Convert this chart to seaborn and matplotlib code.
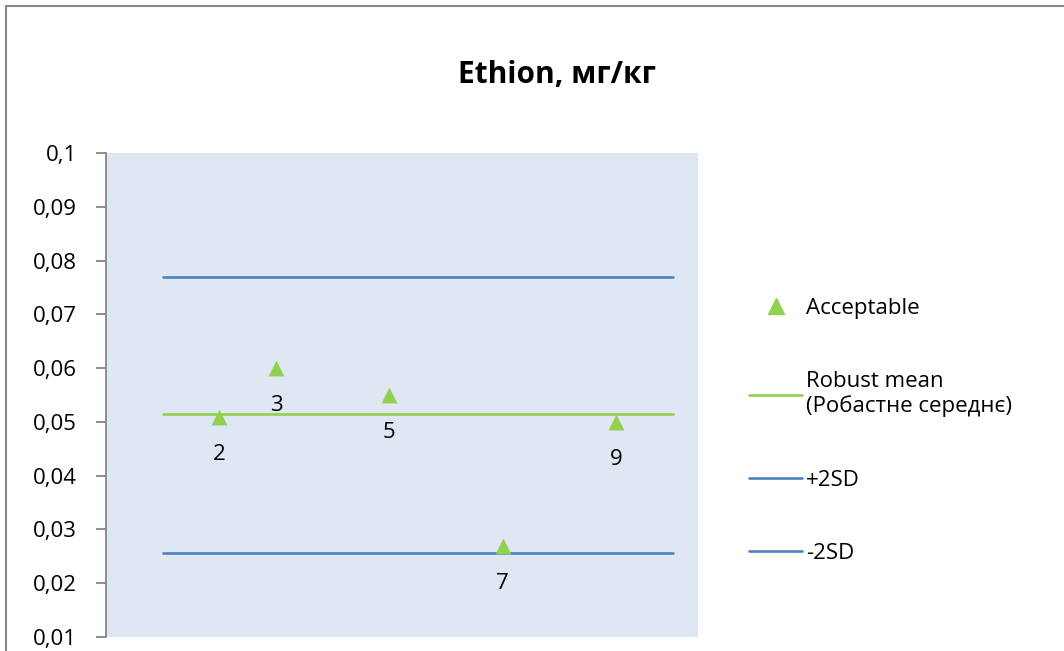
import matplotlib
matplotlib.use("Agg")
import matplotlib.pyplot as plt
import seaborn as sns
import pandas as pd
from matplotlib.lines import Line2D
from matplotlib.patches import Rectangle
from matplotlib.ticker import FuncFormatter

# data
labs = [2, 3, 5, 7, 9]
vals = [0.051, 0.060, 0.055, 0.027, 0.050]
line_x = [1, 10]
robust_mean = 0.0514
plus_2sd = 0.0770
minus_2sd = 0.0257

green = "#92D050"
blue = "#4F81BD"

sns.set_style("white")
plt.rcParams['font.family'] = ['Open Sans', 'DejaVu Sans']
plt.rcParams['text.color'] = 'black'
plt.rcParams['ytick.labelcolor'] = 'black'

fig = plt.figure(figsize=(10.64, 6.51), dpi=100)
ax = fig.add_axes([106/1064, 1-637/651, (698-106)/1064, (637-153)/651])
ax.set_facecolor("#DFE7F2")

df = pd.DataFrame({'lab': labs, 'value': vals})
lines = pd.DataFrame({'x': line_x * 3,
                      'y': [robust_mean]*2 + [plus_2sd]*2 + [minus_2sd]*2,
                      'name': ['mean']*2 + ['plus']*2 + ['minus']*2})

for nm, col in [('mean', green), ('plus', blue), ('minus', blue)]:
    sns.lineplot(data=lines[lines['name'] == nm], x='x', y='y', color=col,
                 linewidth=1.9, ax=ax)

sns.scatterplot(data=df, x='lab', y='value', marker='^', color=green, s=130,
                edgecolor=green, linewidth=0, ax=ax, zorder=5)

for l, v in zip(labs, vals):
    ax.annotate(str(l), (l, v), xytext=(0, -27), textcoords='offset points',
                ha='center', va='center', fontsize=16, color='black')

ax.set_xlim(0, 10.45)
ax.set_ylim(0.01, 0.1)
ax.set_yticks([0.01 * i for i in range(1, 11)])
ax.yaxis.set_major_formatter(FuncFormatter(lambda v, p: f"{v:.2f}".rstrip('0').replace('.', ',')))
ax.set_xticks([])
ax.set_xlabel("")
ax.set_ylabel("")
ax.tick_params(axis='y', which='major', length=7, width=1.3, color="#868686",
               labelsize=16, labelcolor='black', pad=14, left=True)
for s in ['top', 'right', 'bottom']:
    ax.spines[s].set_visible(False)
ax.spines['left'].set_color("#868686")
ax.spines['left'].set_linewidth(1.3)

fig.text(557/1064, 1-75/651, "Ethion, мг/кг", ha='center', va='center',
         fontsize=21.5, fontweight='bold', color='black')

handles = [
    Line2D([], [], marker='^', color=green, linestyle='none', markersize=11),
    Line2D([], [], color=green, linewidth=1.9),
    Line2D([], [], color=blue, linewidth=1.9),
    Line2D([], [], color=blue, linewidth=1.9),
]
names = ["Acceptable", "Robust mean\n(Робастне середнє)", "+2SD", "-2SD"]
fig.legend(handles, names, loc='upper left', bbox_to_anchor=(749/1064, 1-298/651),
           frameon=False, fontsize=16, handlelength=2.4, handletextpad=0.15,
           labelspacing=2.35, borderaxespad=0, borderpad=0, labelcolor='black')

# chart frame (cut off at right and bottom)
fig.add_artist(Rectangle((6/1064, -0.1), 1.2, 1.1 - 6/651, transform=fig.transFigure,
                         fill=False, edgecolor="#888888", linewidth=1.5))

fig.savefig("out.png", dpi=100)
